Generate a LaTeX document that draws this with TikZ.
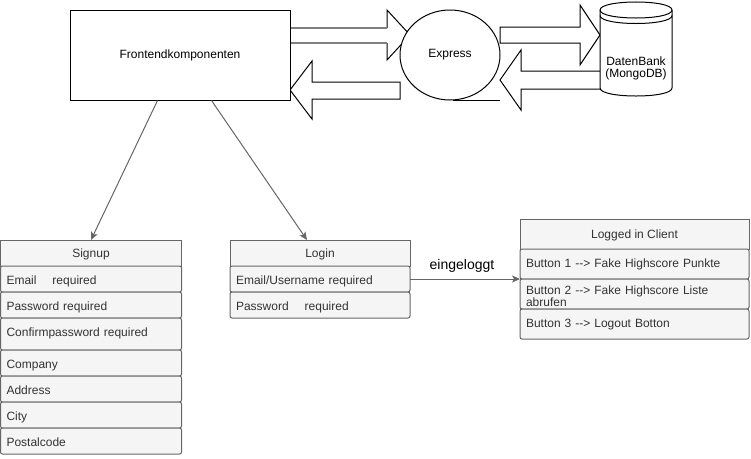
\documentclass[tikz,border=0pt]{standalone}
\usepackage{fontspec}
\newfontfamily\lib{Liberation Sans}
\usetikzlibrary{shapes.geometric,arrows.meta}
\definecolor{grayline}{HTML}{666666}
\definecolor{lightfill}{HTML}{F5F5F5}
\definecolor{txt}{HTML}{333333}
\definecolor{shaftgray}{HTML}{808080}
\tikzset{
  base/.style={font=\lib\fontsize{12}{12}\selectfont},
  blk/.style={draw=black, line width=1pt},
  hdr/.style={base, text=txt, draw=grayline, fill=lightfill, line width=1pt, anchor=north west,
    inner sep=0pt, outer sep=0pt, text height=10pt, text depth=2pt},
  row/.style={base, text=txt, draw=grayline, fill=lightfill, line width=1pt, anchor=north west,
    rounded corners=2pt, inner xsep=6pt, inner ysep=0pt, outer sep=0pt, align=left},
  oneline/.style={text height=10pt, text depth=0pt},
  onelineb/.style={text height=9pt, text depth=3pt},
  conn/.style={draw=grayline, line width=1pt, -{Stealth[length=8pt,width=7pt,inset=2pt]}},
}
\begin{document}
\begin{tikzpicture}[x=1pt,y=-1pt]
\useasboundingbox (0,0) rectangle (751,458);
\fill[white] (0,0) rectangle (751,458);

% block arrows
\draw[blk, fill=white] (400,82) -- (312,82) -- (312,61) -- (290,90) -- (312,119) -- (312,99) -- (400,99) -- cycle;
\draw[blk] (387,28) -- (387,10) -- (410,35) -- (387,60) -- (387,43);
\draw[shaftgray, line width=2pt] (290,28) -- (387,28) (290,43) -- (387,43);
\draw[blk, fill=white] (500,27) -- (580,27) -- (580,5) -- (600,35) -- (580,65) -- (580,43) -- (500,43) -- cycle;
\draw[blk, fill=white] (600,71) -- (521,71) -- (521,50) -- (500,80) -- (521,110) -- (521,89) -- (600,89);
\draw[blk] (453,100) -- (500,100);

% Express
\node[ellipse, blk, fill=white, minimum width=100, minimum height=90, inner sep=0pt, base, text=black] (ex) at (450,55) {Express};

% Database cylinder
\draw[blk, fill=white] (600,10) -- (600,88) .. controls (600,98.67) and (672,98.67) .. (672,88) -- (672,10)
  .. controls (672,-0.67) and (600,-0.67) .. (600,10) -- cycle;
\draw[blk] (600,10) .. controls (600,20.67) and (672,20.67) .. (672,10);
\draw[blk] (600,15.5) .. controls (600,26.17) and (672,26.17) .. (672,15.5);
\node[base, align=center, text=black] (db) at (636,68) {DatenBank\\(MongoDB)};

% Frontend
\node[blk, fill=white, minimum width=220, minimum height=90, base, text=black] (fe) at (180,55) {Frontendkomponenten};

% Signup table
\node[hdr, minimum width=181, minimum height=26] (s0) at (0.5,240) {Signup};
\node[row, oneline, text width=169, minimum height=26] (s1) at (s0.south west) {Email\hspace{16pt}required};
\node[row, oneline, text width=169, minimum height=26] (s2) at (s1.south west) {Password required};
\node[row, text width=169, minimum height=32, text height=10pt, text depth=6pt] (s3) at (s2.south west) {Confirmpassword required};
\node[row, oneline, text width=169, minimum height=26] (s4) at (s3.south west) {Company};
\node[row, oneline, text width=169, minimum height=26] (s5) at (s4.south west) {Address};
\node[row, oneline, text width=169, minimum height=26] (s6) at (s5.south west) {City};
\node[row, oneline, text width=169, minimum height=26] (s7) at (s6.south west) {Postalcode};

% Login table
\node[hdr, minimum width=180, minimum height=26] (l0) at (230,240) {Login};
\node[row, oneline, text width=168, minimum height=26] (l1) at (l0.south west) {Email/Username required};
\node[row, oneline, text width=168, minimum height=26] (l2) at (l1.south west) {Password\hspace{16pt}required};

% Logged in Client table
\node[hdr, minimum width=229, minimum height=30] (c0) at (520,219) {Logged in Client};
\node[row, onelineb, text width=217, minimum height=30] (c1) at (c0.south west) {Button 1 -{}-> Fake Highscore Punkte};
\node[row, text width=217, minimum height=30, text height=13pt] (c2) at (c1.south west) {Button 2 -{}-> Fake Highscore Liste\\abrufen};
\node[row, onelineb, text width=217, minimum height=30] (c3) at (c2.south west) {Button 3 -{}-> Logout Botton};

% connectors
\draw[conn] ([xshift=88pt]fe.south west) -- ([xshift=90.5pt]s0.north west);
\draw[conn] ([xshift=142pt]fe.south west) -- ([xshift=77pt]l0.north west);
\draw[conn] (l1.east) -- (l1.east -| c2.west);
\node[font=\lib\fontsize{14}{16}\selectfont, text=black] (lbl) at (462,266) {eingeloggt};
\end{tikzpicture}
\end{document}
